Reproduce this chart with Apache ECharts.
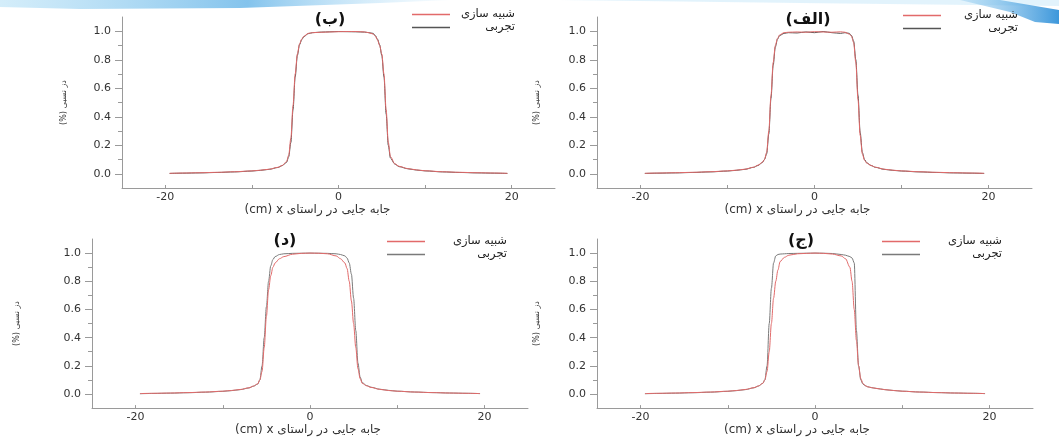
<!DOCTYPE html>
<html>
<head>
<meta charset="utf-8">
<script src="https://cdn.jsdelivr.net/npm/echarts@6/dist/echarts.min.js"></script>
<style>html,body{margin:0;padding:0;background:#fff}#c{width:1059px;height:437px}</style>
</head>
<body>
<div id="c"></div>
<script>
// ---------- data ----------
const xPos = [-19.5,-18,-16,-14,-12,-10,-9,-8,-7,-6.5,-6,-5.75,-5.5,-5.25,-5,-4.75,-4.5,-4.25,-4,-3.5,-3,-2,-1,0,1,2,3,3.5,4,4.25,4.5,4.75,5,5.25,5.5,5.75,6,6.5,7,8,9,10,12,14,16,18,19.5];

const xTickLabels = [-20, 0, 20];
const xTickMarks = [-20, -10, 0, 10, 20];
const yTickLabels = [0, 0.2, 0.4, 0.6, 0.8, 1.0];
const yMinorTicks = [0.1, 0.3, 0.5, 0.7, 0.9];

const seriesNames = ['شبیه سازی', 'تجربی'];
const panelTitles = ['(ب)', '(الف)', '(د)', '(ج)'];
const xAxisName = '(cm) x جابه جایی در راستای';
const yAxisName = '(%) دز نسبی';

// panel (ب) top-left
const simB = [0.003,0.005,0.007,0.010,0.014,0.020,0.025,0.032,0.045,0.058,0.085,0.13,0.25,0.48,0.70,0.84,0.91,0.945,0.965,0.985,0.99,0.993,0.995,0.997,0.998,0.998,0.995,0.99,0.98,0.965,0.94,0.9,0.84,0.7,0.45,0.22,0.12,0.07,0.052,0.036,0.027,0.021,0.014,0.010,0.007,0.005,0.003];
const expB = [0.002,0.004,0.006,0.009,0.013,0.019,0.024,0.031,0.044,0.057,0.08,0.12,0.22,0.45,0.68,0.83,0.905,0.94,0.962,0.983,0.99,0.994,0.996,0.998,0.997,0.996,0.994,0.99,0.985,0.97,0.945,0.905,0.83,0.68,0.42,0.2,0.11,0.068,0.05,0.035,0.026,0.02,0.013,0.009,0.006,0.004,0.002];
// panel (الف) top-right
const simA = [0.003,0.005,0.007,0.010,0.014,0.020,0.025,0.032,0.046,0.06,0.08,0.1,0.15,0.3,0.55,0.78,0.9,0.95,0.975,0.99,0.993,0.995,0.993,0.997,0.995,0.993,0.996,0.993,0.98,0.965,0.92,0.78,0.52,0.27,0.14,0.095,0.075,0.058,0.046,0.032,0.025,0.02,0.014,0.01,0.007,0.005,0.003];
const expA = [0.002,0.004,0.006,0.009,0.013,0.019,0.024,0.031,0.045,0.058,0.078,0.1,0.14,0.28,0.53,0.76,0.89,0.945,0.97,0.985,0.99,0.988,0.995,0.99,0.998,0.99,0.985,0.99,0.985,0.97,0.93,0.8,0.55,0.29,0.15,0.1,0.077,0.058,0.045,0.031,0.024,0.019,0.013,0.009,0.006,0.004,0.002];
// panel (د) bottom-left
const simD = [0.003,0.005,0.007,0.010,0.014,0.020,0.025,0.032,0.044,0.056,0.072,0.1,0.16,0.33,0.55,0.74,0.84,0.9,0.93,0.96,0.975,0.992,0.998,1.0,0.999,0.995,0.98,0.96,0.93,0.89,0.8,0.66,0.5,0.33,0.18,0.11,0.075,0.058,0.047,0.033,0.025,0.02,0.014,0.01,0.007,0.005,0.003];
const expD = [0.002,0.004,0.006,0.009,0.013,0.019,0.024,0.031,0.043,0.055,0.07,0.1,0.2,0.4,0.62,0.8,0.91,0.955,0.975,0.99,0.995,0.998,0.999,1.0,0.999,0.998,0.995,0.99,0.98,0.965,0.93,0.85,0.68,0.45,0.22,0.12,0.08,0.06,0.048,0.034,0.026,0.02,0.014,0.01,0.007,0.005,0.003];
// panel (ج) bottom-right
const simJ = [0.003,0.005,0.007,0.010,0.014,0.020,0.025,0.032,0.045,0.057,0.075,0.1,0.16,0.3,0.5,0.68,0.8,0.88,0.94,0.97,0.985,0.995,0.998,1.0,0.998,0.993,0.98,0.96,0.9,0.8,0.6,0.38,0.2,0.11,0.075,0.06,0.052,0.045,0.04,0.031,0.025,0.02,0.014,0.01,0.007,0.005,0.003];
const expJ = [0.002,0.004,0.006,0.009,0.013,0.019,0.024,0.031,0.044,0.056,0.075,0.1,0.2,0.5,0.75,0.93,0.98,0.99,0.993,0.995,0.997,0.998,0.999,1.0,0.999,0.997,0.99,0.985,0.975,0.965,0.93,0.45,0.2,0.1,0.07,0.06,0.052,0.045,0.04,0.031,0.025,0.02,0.014,0.01,0.007,0.005,0.003];

const panelData = [[simB, expB], [simA, expA], [simD, expD], [simJ, expJ]];

// ---------- layout ----------
const FONT = 'DejaVu Sans';
const grids = [
  {left: 122, top: 17, width: 433, height: 171},
  {left: 597, top: 17, width: 435, height: 171},
  {left: 92, top: 239, width: 436, height: 170},
  {left: 597, top: 239, width: 436, height: 170}
];
const yNameGap = [54, 56, 71, 56];
const xNameShift = [42, 34, 4, 36];
const xNameGap = [11, 11, 12, 12];
const titlePos = [[330, 20], [808, 20], [285, 241], [801, 241]];
const legendPos = [[412, 8.5, 60], [903, 9.5, 72], [387, 235.5, 77], [882, 235.5, 77]];
const simColor = '#e26a6a';
const expColors = ['#555', '#555', '#7a7a7a', '#7a7a7a'];
const axisGray = '#9a9a9a';

const xAxes = [], yAxes = [], series = [], legends = [], graphics = [];
grids.forEach((g, i) => {
  xAxes.push({
    type: 'value', gridIndex: i, min: -25, max: 25, position: 'bottom',
    name: xAxisName, nameLocation: 'middle', nameGap: xNameGap[i],
    nameTextStyle: {fontFamily: FONT, fontSize: 12, color: '#333', padding: [0, xNameShift[i], 0, 0]},
    axisLine: {onZero: false, lineStyle: {color: axisGray, width: 1}},
    axisTick: {inside: true, length: 3, customValues: xTickMarks, lineStyle: {color: axisGray}},
    axisLabel: {customValues: xTickLabels, fontFamily: FONT, fontSize: 11, color: '#333', margin: 4},
    splitLine: {show: false}
  });
  yAxes.push({
    type: 'value', gridIndex: i, min: -0.1, max: 1.1, position: 'left',
    name: yAxisName, nameLocation: 'middle', nameGap: yNameGap[i], nameRotate: 90,
    nameTextStyle: {fontFamily: FONT, fontSize: 8, color: '#333'},
    axisLine: {show: true, onZero: false, lineStyle: {color: axisGray, width: 1}},
    axisTick: {show: true, length: 7, customValues: yTickLabels, lineStyle: {color: axisGray}},
    axisLabel: {customValues: yTickLabels, formatter: v => v.toFixed(1), fontFamily: FONT, fontSize: 11, color: '#333', margin: 11},
    splitLine: {show: false}
  });
});
grids.forEach((g, i) => {
  yAxes.push({
    type: 'value', gridIndex: i, min: -0.1, max: 1.1, position: 'left', offset: 0,
    axisLine: {show: false, onZero: false},
    axisTick: {show: true, length: 4, customValues: yMinorTicks, lineStyle: {color: axisGray}},
    axisLabel: {show: false}, splitLine: {show: false}
  });
});
panelData.forEach((pair, i) => {
  pair.forEach((vals, k) => {
    series.push({
      type: 'line', name: seriesNames[k], xAxisIndex: i, yAxisIndex: i,
      data: xPos.map((x, j) => [x, vals[j]]),
      symbol: 'none', smooth: 0.3, smoothMonotone: 'x',
      lineStyle: {width: 1, color: k === 0 ? simColor : expColors[i]},
      itemStyle: {color: k === 0 ? simColor : expColors[i]},
      z: k === 0 ? 3 : 2
    });
  });
  const lp = legendPos[i];
  legends.push({
    left: lp[0], top: lp[1], orient: 'vertical', padding: 0,
    itemWidth: 38, itemHeight: 1.5, itemGap: 1, icon: 'rect',
    data: seriesNames.map((n, k) => ({name: n, itemStyle: {color: k === 0 ? simColor : expColors[i]}})),
    formatter: name => '{t|' + name + '}',
    textStyle: {
      fontFamily: FONT, fontSize: 11.5, color: '#222',
      rich: {t: {fontFamily: FONT, fontSize: 11.5, color: '#222', width: lp[2], align: 'right', lineHeight: 13}}
    },
    selectedMode: false
  });
  graphics.push({
    type: 'text', x: titlePos[i][0], y: titlePos[i][1], z: 10,
    style: {text: panelTitles[i], font: 'bold 16px "' + FONT + '"', fill: '#111', align: 'center', verticalAlign: 'middle'}
  });
});

// decorative slide swoosh at top
graphics.unshift(
  {type: 'polygon', z: -1, shape: {points: [[0,0],[450,0],[380,3],[240,8],[80,9],[0,7]]},
   style: {fill: {type: 'linear', x: 0, y: 0, x2: 1, y2: 0, colorStops: [
     {offset: 0, color: 'rgba(170,220,245,0.5)'}, {offset: 0.55, color: 'rgba(90,175,230,0.75)'}, {offset: 1, color: 'rgba(180,225,250,0.1)'}]}}},
  {type: 'polygon', z: -1, shape: {points: [[560,0],[1059,0],[1059,6],[800,3]]},
   style: {fill: 'rgba(190,228,248,0.45)'}},
  {type: 'polygon', z: -1, shape: {points: [[960,0],[1000,0],[1059,10],[1059,24],[1035,22],[1010,12]]},
   style: {fill: {type: 'linear', x: 0, y: 0, x2: 1, y2: 0, colorStops: [
     {offset: 0, color: 'rgba(120,190,235,0.3)'}, {offset: 1, color: 'rgba(40,140,215,0.9)'}]}}}
);

const chart = echarts.init(document.getElementById('c'), null, {renderer: 'canvas'});
chart.setOption({
  backgroundColor: '#fff',
  animation: false,
  grid: grids,
  xAxis: xAxes,
  yAxis: yAxes,
  legend: legends,
  series: series,
  graphic: graphics
});
</script>
</body>
</html>
